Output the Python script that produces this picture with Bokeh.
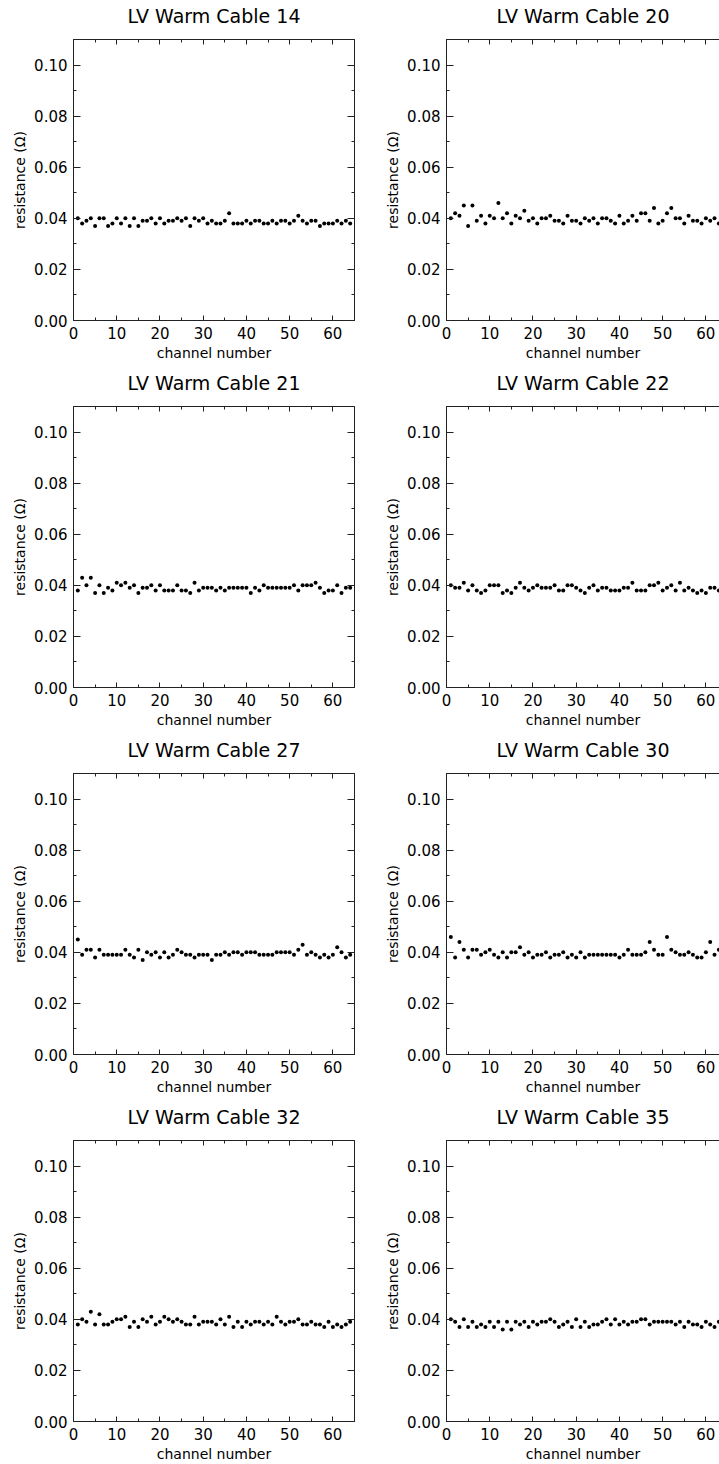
from bokeh.plotting import figure
from bokeh.layouts import column, row
from bokeh.models import LinearAxis, SingleIntervalTicker, PrintfTickFormatter, Range1d, ColumnDataSource
from bokeh.embed import file_html
from bokeh.resources import INLINE

channels = list(range(1, 65))

titles = ["LV Warm Cable 14", "LV Warm Cable 20", "LV Warm Cable 21", "LV Warm Cable 22",
          "LV Warm Cable 27", "LV Warm Cable 30", "LV Warm Cable 32", "LV Warm Cable 35"]

cable14 = [0.040,0.038,0.039,0.040,0.037,0.040,0.040,0.037,0.038,0.040,
           0.038,0.040,0.037,0.040,0.037,0.039,0.039,0.040,0.038,0.040,
           0.038,0.039,0.039,0.040,0.039,0.040,0.037,0.040,0.039,0.040,
           0.038,0.039,0.038,0.038,0.039,0.042,0.038,0.038,0.038,0.039,
           0.038,0.039,0.039,0.038,0.038,0.039,0.038,0.039,0.039,0.038,
           0.039,0.041,0.039,0.038,0.039,0.039,0.037,0.038,0.038,0.038,
           0.039,0.038,0.039,0.038]
cable20 = [0.040,0.042,0.041,0.045,0.037,0.045,0.039,0.041,0.038,0.041,
           0.040,0.046,0.040,0.042,0.038,0.041,0.040,0.043,0.039,0.040,
           0.038,0.040,0.040,0.041,0.039,0.039,0.038,0.041,0.039,0.039,
           0.038,0.040,0.039,0.040,0.038,0.040,0.040,0.039,0.038,0.041,
           0.038,0.039,0.041,0.039,0.042,0.042,0.039,0.044,0.038,0.039,
           0.042,0.044,0.040,0.040,0.038,0.041,0.039,0.039,0.038,0.040,
           0.039,0.040,0.038,0.039]
cable21 = [0.038,0.043,0.040,0.043,0.037,0.040,0.037,0.039,0.038,0.041,
           0.040,0.041,0.039,0.040,0.037,0.039,0.039,0.040,0.038,0.040,
           0.038,0.038,0.038,0.040,0.038,0.038,0.037,0.041,0.038,0.039,
           0.039,0.039,0.038,0.039,0.038,0.039,0.039,0.039,0.039,0.039,
           0.037,0.039,0.038,0.040,0.039,0.039,0.039,0.039,0.039,0.039,
           0.040,0.038,0.040,0.040,0.040,0.041,0.039,0.037,0.038,0.038,
           0.040,0.037,0.039,0.039]
cable22 = [0.040,0.039,0.039,0.041,0.038,0.040,0.038,0.037,0.038,0.040,
           0.040,0.040,0.037,0.038,0.037,0.039,0.041,0.039,0.038,0.039,
           0.040,0.039,0.039,0.039,0.040,0.038,0.038,0.040,0.040,0.039,
           0.038,0.037,0.039,0.040,0.038,0.039,0.039,0.038,0.038,0.038,
           0.039,0.039,0.041,0.038,0.038,0.038,0.040,0.040,0.041,0.038,
           0.039,0.040,0.038,0.041,0.038,0.039,0.038,0.037,0.038,0.037,
           0.039,0.039,0.038,0.038]
cable27 = [0.045,0.039,0.041,0.041,0.038,0.041,0.039,0.039,0.039,0.039,
           0.039,0.041,0.039,0.038,0.041,0.037,0.040,0.039,0.040,0.038,
           0.040,0.038,0.039,0.041,0.040,0.039,0.039,0.038,0.039,0.039,
           0.039,0.037,0.039,0.039,0.040,0.039,0.040,0.040,0.039,0.040,
           0.040,0.040,0.039,0.039,0.039,0.039,0.040,0.040,0.040,0.040,
           0.039,0.041,0.043,0.039,0.040,0.039,0.038,0.039,0.038,0.039,
           0.042,0.040,0.038,0.039]
cable30 = [0.046,0.038,0.044,0.041,0.038,0.041,0.041,0.039,0.040,0.041,
           0.039,0.038,0.040,0.038,0.040,0.040,0.042,0.039,0.040,0.038,
           0.039,0.039,0.040,0.038,0.039,0.039,0.040,0.038,0.039,0.038,
           0.040,0.038,0.039,0.039,0.039,0.039,0.039,0.039,0.039,0.038,
           0.039,0.041,0.039,0.039,0.039,0.040,0.044,0.041,0.039,0.039,
           0.046,0.041,0.040,0.039,0.039,0.040,0.039,0.038,0.038,0.040,
           0.044,0.039,0.041,0.040]
cable32 = [0.038,0.040,0.039,0.043,0.038,0.042,0.038,0.038,0.039,0.040,
           0.040,0.041,0.037,0.039,0.037,0.040,0.039,0.041,0.038,0.039,
           0.041,0.040,0.039,0.040,0.039,0.038,0.038,0.041,0.038,0.039,
           0.039,0.039,0.038,0.040,0.038,0.041,0.037,0.039,0.037,0.039,
           0.038,0.039,0.039,0.038,0.039,0.038,0.041,0.039,0.038,0.039,
           0.039,0.040,0.038,0.038,0.039,0.038,0.038,0.037,0.039,0.037,
           0.038,0.037,0.038,0.039]
cable35 = [0.040,0.039,0.037,0.040,0.037,0.039,0.037,0.038,0.037,0.039,
           0.037,0.039,0.036,0.039,0.036,0.039,0.038,0.039,0.037,0.039,
           0.038,0.039,0.039,0.040,0.039,0.037,0.038,0.039,0.037,0.040,
           0.037,0.039,0.037,0.038,0.038,0.039,0.040,0.038,0.040,0.038,
           0.039,0.038,0.039,0.039,0.040,0.040,0.038,0.039,0.039,0.039,
           0.039,0.039,0.038,0.039,0.037,0.039,0.038,0.038,0.037,0.039,
           0.038,0.037,0.039,0.038]

series = [cable14, cable20, cable21, cable22, cable27, cable30, cable32, cable35]

FONT = "DejaVu Sans"
LINE = "#222222"
TOP = 39
FRAME_H = 281


def style_axis(ax, tick_in, minor_in, labels=True):
    ax.axis_line_color = LINE
    ax.axis_line_width = 1
    ax.major_tick_line_color = LINE
    ax.minor_tick_line_color = LINE
    ax.major_tick_in = tick_in
    ax.major_tick_out = 0
    ax.minor_tick_in = minor_in
    ax.minor_tick_out = 0
    ax.major_label_text_font = FONT
    ax.major_label_text_font_size = "15px"
    ax.axis_label_text_font = FONT
    ax.axis_label_text_font_style = "normal"
    ax.axis_label_text_color = "black"
    ax.axis_label_text_font_size = "14px"
    if labels:
        ax.major_label_text_color = "black"
    else:
        ax.major_label_text_color = None
        ax.major_label_standoff = 0


def make_panel(title, values, is_right, height):
    width = 338 if is_right else 381
    xend = 63.15 if is_right else 65
    p = figure(width=width, height=height,
               x_range=Range1d(0, xend), y_range=Range1d(0, 0.11),
               output_backend="svg", toolbar_location=None,
               x_axis_type=None, y_axis_type=None,
               min_border_left=65 if is_right else 73,
               min_border_right=0 if is_right else 27,
               min_border_top=TOP, min_border_bottom=height - TOP - FRAME_H)
    p.title.text = title
    p.title.text_font = FONT
    p.title.text_font_size = "19px"
    p.title.text_font_style = "normal"
    p.title.align = "center"
    p.title.text_color = "black"
    p.title.vertical_align = "top"
    p.title.standoff = 0
    if is_right:
        p.title.offset = 4
    p.outline_line_color = None
    p.xgrid.visible = False
    p.ygrid.visible = False
    p.background_fill_color = "white"
    p.border_fill_color = "white"

    xt = SingleIntervalTicker(interval=10, num_minor_ticks=2)
    yt = SingleIntervalTicker(interval=0.02, num_minor_ticks=2)

    bottom = LinearAxis(ticker=xt, axis_label="channel number")
    style_axis(bottom, 5, 3)
    bottom.major_label_standoff = 6
    bottom.axis_label_standoff = 3
    p.add_layout(bottom, "below")

    top = LinearAxis(ticker=xt)
    style_axis(top, 5, 3, labels=False)
    p.add_layout(top, "above")

    # invisible spacer axis: lifts the title away from the frame
    spacer = LinearAxis(ticker=xt)
    style_axis(spacer, 0, 0, labels=False)
    spacer.axis_line_color = None
    spacer.major_tick_line_color = None
    spacer.minor_tick_line_color = None
    spacer.major_tick_out = 11
    p.add_layout(spacer, "above")

    left = LinearAxis(ticker=yt, formatter=PrintfTickFormatter(format="%.2f"),
                      axis_label="resistance (Ω)")
    style_axis(left, 7, 3)
    left.major_label_standoff = 6
    left.axis_label_standoff = 3
    p.add_layout(left, "left")

    if not is_right:
        right = LinearAxis(ticker=yt)
        style_axis(right, 7, 3, labels=False)
        p.add_layout(right, "right")

    src = ColumnDataSource(dict(x=channels, y=values))
    p.scatter("x", "y", source=src, size=4, color="black", line_width=0)
    return p


heights = [367, 367, 367, 363]
rows = []
for r in range(4):
    pl = make_panel(titles[2 * r], series[2 * r], False, heights[r])
    pr = make_panel(titles[2 * r + 1], series[2 * r + 1], True, heights[r])
    rows.append(row(pl, pr))

layout = column(*rows)
open("out.html", "w").write(file_html(layout, INLINE))
